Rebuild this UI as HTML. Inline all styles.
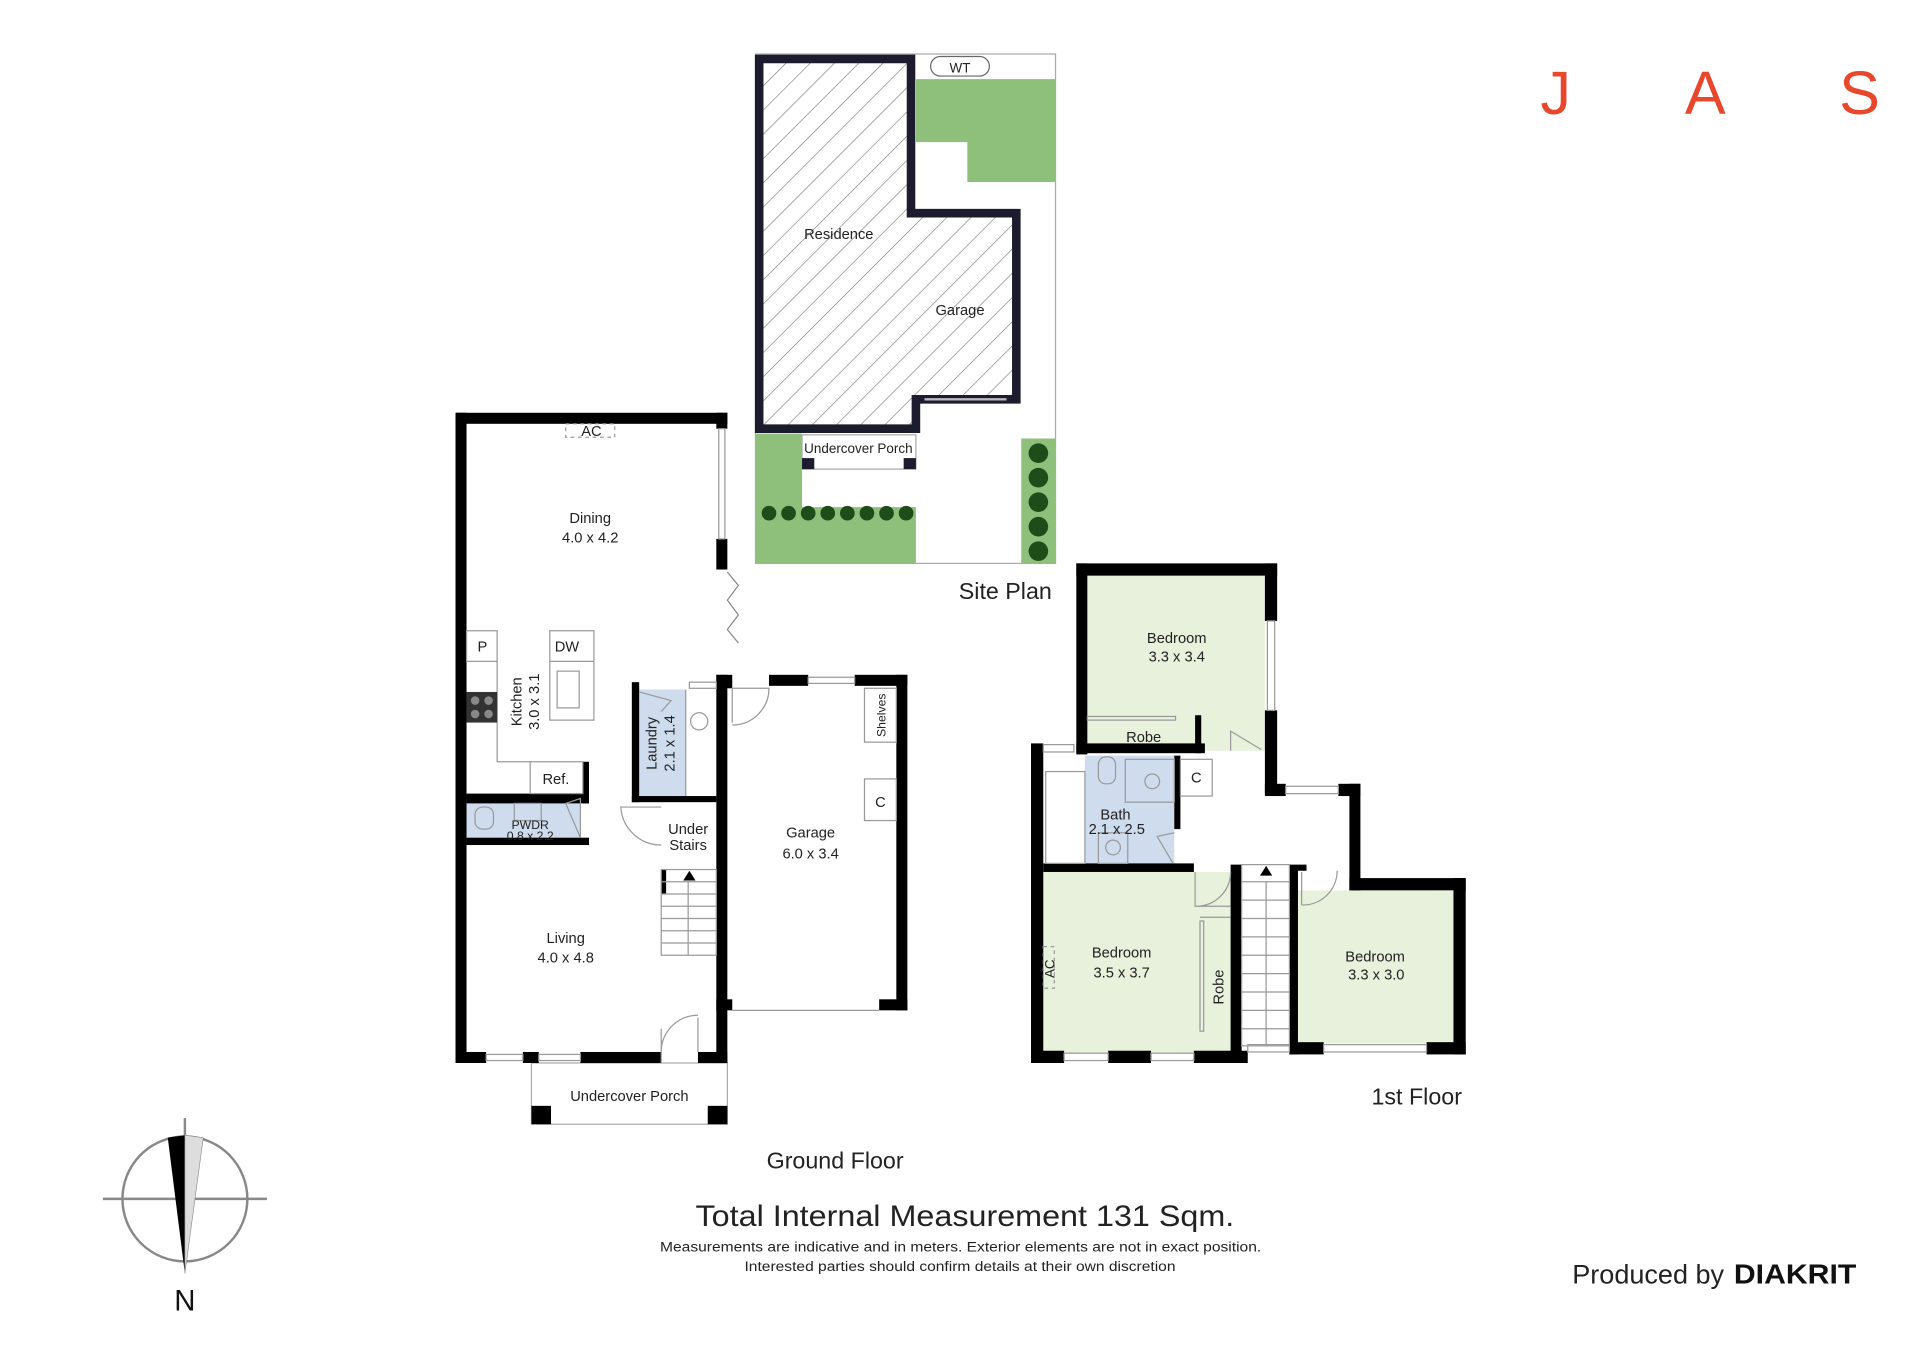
<!DOCTYPE html>
<html><head><meta charset="utf-8"><style>html,body{margin:0;padding:0;background:#fff}svg{display:block}text{font-family:"Liberation Sans",sans-serif;fill:#222}</style></head>
<body>
<svg width="1920" height="1357" viewBox="0 0 1568 1108" xmlns="http://www.w3.org/2000/svg">
<defs>
<pattern id="h" width="14" height="14" patternUnits="userSpaceOnUse" patternTransform="rotate(-45)"><rect width="14" height="14" fill="#fff"/><line x1="0" y1="0" x2="14" y2="0" stroke="#777" stroke-width="1"/></pattern>
</defs>
<rect width="1568" height="1108" fill="#fff"/>

<!-- JAS -->
<text x="1258" y="93" font-size="50" style="fill:#e8472c">J</text>
<text x="1376" y="93" font-size="50" style="fill:#e8472c">A</text>
<text x="1502" y="93" font-size="50" style="fill:#e8472c">S</text>

<!-- SITE PLAN -->
<rect x="617" y="44" width="245" height="416" fill="#fff" stroke="#aaa" stroke-width="1"/>
<path d="M748 64.5H862V148.5H790V116H748Z" fill="#8ec07c"/>
<rect x="760" y="46" width="48" height="16" rx="8" fill="#fff" stroke="#666"/>
<text x="784" y="59" font-size="11" text-anchor="middle">WT</text>
<path d="M617 354H655V414H748V460H617Z" fill="#8ec07c"/>
<rect x="834" y="358" width="28" height="102" fill="#8ec07c"/>
<g fill="#1f4d1a">
<circle cx="628" cy="419" r="6"/><circle cx="644" cy="419" r="6"/><circle cx="660" cy="419" r="6"/><circle cx="676" cy="419" r="6"/><circle cx="692" cy="419" r="6"/><circle cx="708" cy="419" r="6"/><circle cx="724" cy="419" r="6"/><circle cx="740" cy="419" r="6"/>
<circle cx="848" cy="370" r="8"/><circle cx="848" cy="390" r="8"/><circle cx="848" cy="410" r="8"/><circle cx="848" cy="430" r="8"/><circle cx="848" cy="450" r="8"/>
</g>
<path d="M620 48H744V174H830V326H748V350H620Z" fill="url(#h)" stroke="#1c1c2e" stroke-width="7"/>
<line x1="755" y1="326" x2="822" y2="326" stroke="#bbb" stroke-width="2"/>
<rect x="655" y="355" width="93" height="28" fill="#fff" stroke="#aaa"/>
<rect x="655" y="374" width="10" height="9" fill="#1c1c2e"/><rect x="738" y="374" width="10" height="9" fill="#1c1c2e"/>
<text x="701" y="370" font-size="11" text-anchor="middle">Undercover Porch</text>
<text x="685" y="195" font-size="12" text-anchor="middle">Residence</text>
<text x="784" y="257" font-size="12" text-anchor="middle">Garage</text>
<text x="821" y="489" font-size="19" text-anchor="middle">Site Plan</text>

<!-- GROUND FLOOR -->
<rect x="434" y="868" width="160" height="50" fill="#fff" stroke="#aaa"/>
<rect x="434" y="903" width="16" height="15" fill="#000"/><rect x="578" y="903" width="16" height="15" fill="#000"/>
<text x="514" y="899" font-size="12" text-anchor="middle">Undercover Porch</text>
<rect x="381" y="656" width="93" height="28" fill="#cfdcee"/>
<rect x="522" y="563" width="38" height="87" fill="#cfdcee"/>
<g fill="#000">
<rect x="372" y="337" width="222" height="9"/>
<rect x="372" y="337" width="9" height="531"/>
<rect x="585" y="337" width="9" height="13"/>
<rect x="585" y="440" width="9" height="25"/>
<rect x="372" y="859" width="25" height="9"/>
<rect x="427" y="859" width="13" height="9"/>
<rect x="474" y="859" width="66" height="9"/>
<rect x="570" y="859" width="24" height="9"/>
<rect x="585" y="551" width="13" height="11"/>
<rect x="585" y="551" width="9" height="317"/>
<rect x="628" y="551" width="32" height="9"/>
<rect x="698" y="551" width="43" height="9"/>
<rect x="732" y="551" width="9" height="274"/>
<rect x="718" y="816" width="23" height="9"/>
<rect x="585" y="816" width="13" height="9"/>
<rect x="381" y="648" width="100" height="8"/>
<rect x="381" y="684" width="100" height="6"/>
<rect x="476" y="622" width="5" height="34"/>
<rect x="516" y="557" width="6" height="98"/>
<rect x="516" y="650" width="69" height="5"/>
<rect x="540" y="710" width="4" height="20"/>
</g>
<g fill="none" stroke="#999" stroke-width="1">
<rect x="587" y="350" width="5" height="90"/>
<rect x="397" y="861" width="30" height="5"/><rect x="440" y="861" width="34" height="5"/>
<rect x="660" y="553" width="38" height="5"/><rect x="563" y="557" width="22" height="5"/>
<line x1="598" y1="825" x2="718" y2="825"/>
<path d="M594 467L603 478L594 490L603 502L594 514L603 525" stroke="#888"/>
<rect x="381" y="515" width="25" height="25"/>
<path d="M406 540V622H433"/>
<rect x="433" y="622" width="43" height="26"/>
<rect x="449" y="515" width="36" height="73"/><line x1="449" y1="540" x2="485" y2="540"/>
<rect x="455" y="548" width="18" height="30"/>
<rect x="706" y="562" width="26" height="44"/>
<rect x="706" y="636" width="26" height="34"/>
<path d="M598 590V562H628A30 30 0 0 1 598 592"/>
<path d="M540 659H507A33 33 0 0 0 540 690"/>
<path d="M540 840V868M570 831V859M540 859A30 30 0 0 1 570 829"/>
<rect x="540" y="710" width="45" height="70"/>
<path d="M540 720H585M540 730H585M540 740H585M540 750H585M540 760H585M540 770H585M562 720V780"/>
<path d="M560 563V650"/>
<circle cx="571" cy="589" r="7"/>
<rect x="388" y="659" width="15" height="18" rx="6"/>
<rect x="420" y="656" width="22" height="14"/>
<path d="M462 656L474 652V684Z"/>
<path d="M522 565L548 572L540 581"/>
</g>
<rect x="381" y="565" width="25" height="25" fill="#333"/>
<g fill="#888"><circle cx="388" cy="572" r="3.5"/><circle cx="399" cy="572" r="3.5"/><circle cx="388" cy="583" r="3.5"/><circle cx="399" cy="583" r="3.5"/></g>
<path d="M558 719L563 711L568 719Z" fill="#000"/>
<rect x="462" y="346" width="40" height="11" fill="none" stroke="#999" stroke-dasharray="3 3"/>
<text x="483" y="356" font-size="12" text-anchor="middle">AC</text>
<text x="482" y="427" font-size="12" text-anchor="middle">Dining</text>
<text x="482" y="443" font-size="12" text-anchor="middle">4.0 x 4.2</text>
<text x="394" y="532" font-size="12" text-anchor="middle">P</text>
<text x="463" y="532" font-size="12" text-anchor="middle">DW</text>
<text x="454" y="640" font-size="12" text-anchor="middle">Ref.</text>
<text transform="translate(426 573) rotate(-90)" font-size="12" text-anchor="middle">Kitchen</text>
<text transform="translate(440 573) rotate(-90)" font-size="12" text-anchor="middle">3.0 x 3.1</text>
<text transform="translate(536 607) rotate(-90)" font-size="12" text-anchor="middle">Laundry</text>
<text transform="translate(551 607) rotate(-90)" font-size="12" text-anchor="middle">2.1 x 1.4</text>
<text x="433" y="677" font-size="10" text-anchor="middle">PWDR</text>
<text x="433" y="686" font-size="10" text-anchor="middle">0.8 x 2.2</text>
<text x="562" y="681" font-size="12" text-anchor="middle">Under</text>
<text x="562" y="694" font-size="12" text-anchor="middle">Stairs</text>
<text x="662" y="684" font-size="12" text-anchor="middle">Garage</text>
<text x="662" y="701" font-size="12" text-anchor="middle">6.0 x 3.4</text>
<text x="719" y="659" font-size="12" text-anchor="middle">C</text>
<text transform="translate(723 584) rotate(-90)" font-size="10" text-anchor="middle">Shelves</text>
<text x="462" y="770" font-size="12" text-anchor="middle">Living</text>
<text x="462" y="786" font-size="12" text-anchor="middle">4.0 x 4.8</text>
<text x="682" y="954" font-size="19" text-anchor="middle">Ground Floor</text>

<!-- 1ST FLOOR -->
<g fill="#e8f1dc">
<rect x="888" y="470" width="145" height="143"/>
<rect x="852" y="712" width="158" height="148"/>
<rect x="1060" y="727" width="127" height="125"/>
</g>
<rect x="886" y="617" width="73" height="90" fill="#cfdcee"/>
<g fill="#000">
<rect x="879" y="460" width="164" height="10"/>
<rect x="879" y="460" width="9" height="156"/>
<rect x="1033" y="460" width="10" height="47"/>
<rect x="1033" y="580" width="10" height="68"/>
<rect x="879" y="607" width="105" height="8"/>
<rect x="976" y="584" width="5" height="31"/>
<rect x="1033" y="640" width="17" height="10"/>
<rect x="1093" y="640" width="18" height="10"/>
<rect x="1102" y="640" width="9" height="87"/>
<rect x="1102" y="717" width="95" height="10"/>
<rect x="1187" y="717" width="10" height="144"/>
<rect x="1053" y="851" width="28" height="10"/>
<rect x="1165" y="851" width="32" height="10"/>
<rect x="1053" y="706" width="7" height="155"/>
<rect x="1005" y="706" width="9" height="155"/>
<rect x="842" y="607" width="10" height="261"/>
<rect x="842" y="858" width="27" height="10"/>
<rect x="905" y="858" width="35" height="10"/>
<rect x="975" y="858" width="44" height="10"/>
<rect x="852" y="705" width="123" height="7"/>
<rect x="959" y="617" width="5" height="60"/>
<rect x="1060" y="706" width="7" height="5"/>
</g>
<g fill="none" stroke="#999" stroke-width="1">
<rect x="1035" y="507" width="6" height="73"/>
<rect x="852" y="608" width="25" height="6"/>
<rect x="1050" y="642" width="43" height="6"/>
<rect x="869" y="860" width="36" height="6"/><rect x="940" y="860" width="35" height="6"/>
<rect x="1081" y="853" width="84" height="6"/>
<rect x="1019" y="853" width="34" height="6"/>
<rect x="888" y="585" width="72" height="3"/>
<path d="M1005 613V597L1030 612"/>
<rect x="854" y="630" width="32" height="75"/>
<rect x="919" y="620" width="40" height="35"/><circle cx="941" cy="638" r="6"/>
<rect x="897" y="618" width="14" height="22" rx="6"/>
<rect x="897" y="680" width="24" height="25"/><circle cx="909" cy="692" r="6"/>
<rect x="964" y="620" width="26" height="30"/>
<path d="M959 680L945 683L958 705"/>
<rect x="1014" y="706" width="39" height="148"/>
<path d="M1014 720H1053M1014 735H1053M1014 750H1053M1014 765H1053M1014 780H1053M1014 795H1053M1014 810H1053M1014 825H1053M1014 840H1053M1034 720V854"/>
<path d="M976 712V740H1005M1005 712A28 28 0 0 1 977 740"/>
<path d="M1063 712V739M1063 739A28 28 0 0 0 1092 711"/>
<rect x="980" y="752" width="3" height="90"/>
<path d="M980 749H1005"/>
<rect x="852" y="773" width="9" height="34" stroke-dasharray="3 3"/>
</g>
<path d="M1029 715L1034 707L1039 715Z" fill="#000"/>
<text x="961" y="525" font-size="12" text-anchor="middle">Bedroom</text>
<text x="961" y="540" font-size="12" text-anchor="middle">3.3 x 3.4</text>
<text x="934" y="606" font-size="12" text-anchor="middle">Robe</text>
<text x="977" y="639" font-size="12" text-anchor="middle">C</text>
<text x="911" y="669" font-size="12" text-anchor="middle">Bath</text>
<text x="912" y="681" font-size="12" text-anchor="middle">2.1 x 2.5</text>
<text x="916" y="782" font-size="12" text-anchor="middle">Bedroom</text>
<text x="916" y="798" font-size="12" text-anchor="middle">3.5 x 3.7</text>
<text transform="translate(861 791) rotate(-90)" font-size="11" text-anchor="middle">AC</text>
<text transform="translate(999 806) rotate(-90)" font-size="12" text-anchor="middle">Robe</text>
<text x="1123" y="785" font-size="12" text-anchor="middle">Bedroom</text>
<text x="1124" y="800" font-size="12" text-anchor="middle">3.3 x 3.0</text>
<text x="1157" y="902" font-size="19" text-anchor="middle">1st Floor</text>

<!-- bottom text -->
<text x="568" y="1001" font-size="24" textLength="440" lengthAdjust="spacingAndGlyphs">Total Internal Measurement 131 Sqm.</text>
<text x="539" y="1022" font-size="11" textLength="491" lengthAdjust="spacingAndGlyphs">Measurements are indicative and in meters. Exterior elements are not in exact position.</text>
<text x="608" y="1038" font-size="11" textLength="352" lengthAdjust="spacingAndGlyphs">Interested parties should confirm details at their own discretion</text>
<text x="1284" y="1048" font-size="22" textLength="124" lengthAdjust="spacingAndGlyphs">Produced by</text>
<text x="1416" y="1048" font-size="23" font-weight="bold" style="fill:#111" textLength="100" lengthAdjust="spacingAndGlyphs">DIAKRIT</text>

<!-- compass -->
<g stroke="#888" stroke-width="2" fill="none">
<circle cx="151" cy="979" r="51"/>
<line x1="84" y1="979" x2="218" y2="979"/>
<line x1="151" y1="913" x2="151" y2="929"/>
</g>
<path d="M137 929L151 927L151 1040Z" fill="#000"/>
<path d="M151 927L166 929L151 1040Z" fill="#ddd" stroke="#888" stroke-width="0.5"/>
<text x="151" y="1070" font-size="24" text-anchor="middle" style="fill:#111">N</text>
</svg>
</body></html>
